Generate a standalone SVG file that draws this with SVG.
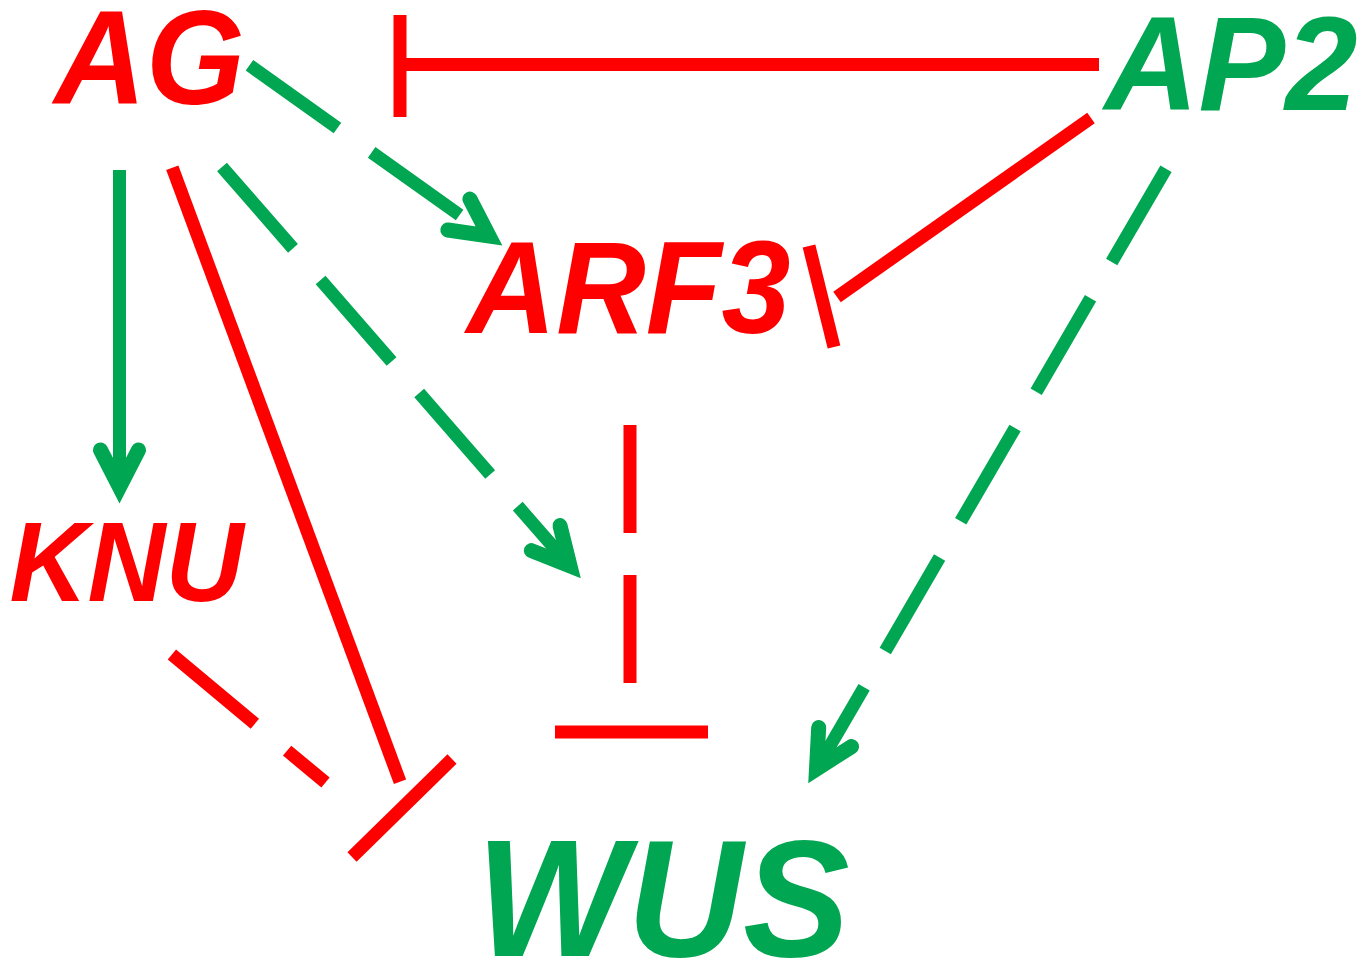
<svg xmlns="http://www.w3.org/2000/svg" width="1366" height="963" viewBox="0 0 1366 963">
  <style>
    .lbl { font-family: "Liberation Sans", Arial, sans-serif; font-weight: bold; font-style: italic; text-anchor: middle; }
    .red { fill: #FF0000; }
    .grn { fill: #00A651; }
    .rl { stroke: #FF0000; stroke-width: 13; fill: none; stroke-linecap: butt; }
    .gl { stroke: #00A651; stroke-width: 13; fill: none; stroke-linecap: butt; }
    .dash { stroke-dasharray: 108 42; }
  </style>
  <defs>
    <!-- open chevron arrowhead, vertex at the path end -->
    <marker id="arrow" markerUnits="userSpaceOnUse" viewBox="-60 -40 80 80" refX="0" refY="0" markerWidth="80" markerHeight="80" orient="auto" overflow="visible">
      <path d="M-37,-19 L0,0 L-37,19" fill="none" stroke="#00A651" stroke-width="15" stroke-linecap="round" stroke-linejoin="miter"/>
    </marker>
  </defs>
  <rect width="1366" height="963" fill="#FFFFFF"/>

  <g id="connectors">
    <!-- AP2 represses the AG -> ARF3 activation -->
    <path id="ap2-ag" class="rl" d="M1099,64.5 L400,64.5"/>
    <path id="ap2-ag-bar" class="rl" d="M400,15 L400,117"/>
    <!-- AP2 represses ARF3 -->
    <path id="ap2-arf3" class="rl" d="M1091,118 L837,297"/>
    <path id="ap2-arf3-bar" class="rl" d="M809,246 L834,347"/>
    <!-- AG activates ARF3 -->
    <path id="ag-arf3" class="gl dash" d="M249.5,65.3 L489,236" marker-end="url(#arrow)"/>
    <!-- AG activates KNU -->
    <path id="ag-knu" class="gl" d="M119.5,170 L119.5,487" marker-end="url(#arrow)"/>
    <!-- AG activates the ARF3 -| WUS step -->
    <path id="ag-mid" class="gl dash" d="M222,167 L570,566" marker-end="url(#arrow)"/>
    <!-- AP2 activates WUS -->
    <path id="ap2-wus" class="gl dash" d="M1166,168.7 L816.5,769" marker-end="url(#arrow)"/>
    <!-- ARF3 represses WUS -->
    <path id="arf3-wus" class="rl dash" d="M630,425 L630,684"/>
    <path id="arf3-wus-bar" class="rl" d="M555,732 L708,732"/>
    <!-- AG and KNU repress WUS -->
    <path id="ag-wus" class="rl" d="M172.3,167.7 L400,781.7"/>
    <path id="knu-wus" class="rl dash" d="M171.9,654.6 L325.5,782.6"/>
    <path id="ag-knu-wus-bar" class="rl" d="M452,759 L352,857"/>
  </g>

  <g id="AG"><text class="lbl red" transform="translate(149.5,104) scale(1,1.055)" font-size="127">AG</text></g>
  <g id="AP2"><text class="lbl grn" transform="translate(1231,110) scale(1,1.03)" font-size="130">AP2</text></g>
  <g id="ARF3"><text class="lbl red" transform="translate(628.5,333) scale(1,1.055)" font-size="124">ARF3</text></g>
  <g id="KNU"><text class="lbl red" transform="translate(126.5,601) scale(1,1.05)" font-size="108">KNU</text></g>
  <g id="WUS"><text class="lbl grn" transform="translate(663,956) scale(1,1.045)" font-size="160">WUS</text></g>
</svg>
